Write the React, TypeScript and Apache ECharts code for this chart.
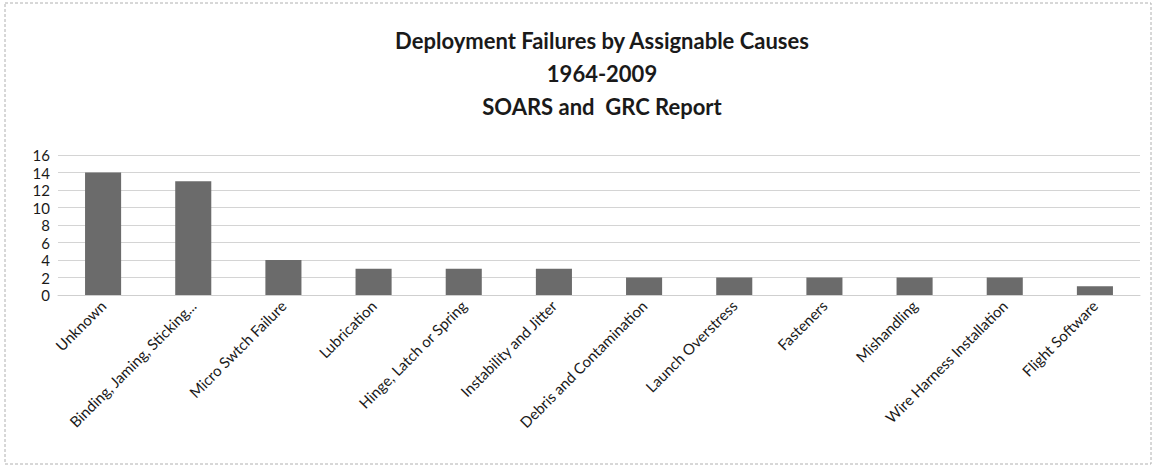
import React, { useEffect, useRef } from "react";
import * as echarts from "echarts";

const categories = [
  "Unknown",
  "Binding, Jaming, Sticking...",
  "Micro Swtch Failure",
  "Lubrication",
  "Hinge, Latch or Spring",
  "Instability and Jitter",
  "Debris and Contamination",
  "Launch Overstress",
  "Fasteners",
  "Mishandling",
  "Wire Harness Installation",
  "Flight Software",
];
const failures = [14, 13, 4, 3, 3, 3, 2, 2, 2, 2, 2, 1];
const titleLines = ["Deployment Failures by Assignable Causes", "1964-2009", "SOARS and  GRC Report"];

const FONT = "Lato, 'Open Sans', sans-serif";

export default function App() {
  const ref = useRef<HTMLDivElement>(null);
  useEffect(() => {
    if (!ref.current) return;
    const chart = echarts.init(ref.current, null, { renderer: "svg" });
    chart.setOption({
      animation: false,
      backgroundColor: "#ffffff",
      title: {
        text: titleLines.join("\n"),
        left: 597,
        textAlign: "center",
        top: 19,
        textStyle: {
          fontFamily: FONT,
          fontSize: 22,
          fontWeight: "bold",
          color: "#1a1a1a",
          lineHeight: 33,
        },
      },
      graphic: [
        {
          type: "rect",
          shape: { x: 5, y: 3, width: 1146, height: 461 },
          style: { fill: "none", stroke: "#b0b0b0", lineWidth: 1, lineDash: [3, 2] },
          silent: true,
        },
      ],
      grid: { left: 58, right: 14, top: 155, bottom: 175, containLabel: false },
      xAxis: {
        type: "category",
        data: categories,
        axisTick: { show: false },
        axisLine: { lineStyle: { color: "#cfcfcf" } },
        axisLabel: {
          interval: 0,
          rotate: 45,
          fontFamily: FONT,
          fontSize: 15,
          color: "#1a1a1a",
          margin: 8,
        },
      },
      yAxis: {
        type: "value",
        min: 0,
        max: 16,
        interval: 2,
        axisLine: { show: false },
        axisTick: { show: false },
        axisLabel: { fontFamily: FONT, fontSize: 15, color: "#1a1a1a", margin: 8 },
        splitLine: { lineStyle: { color: "#d4d4d4", width: 1 } },
      },
      series: [
        {
          type: "bar",
          data: failures,
          barWidth: "40%",
          itemStyle: { color: "#6b6b6b" },
        },
      ],
    });
    return () => chart.dispose();
  }, []);
  return (
    <div
      ref={ref}
      style={{ position: "absolute", left: 0, top: 0, width: 1154, height: 470 }}
    />
  );
}
